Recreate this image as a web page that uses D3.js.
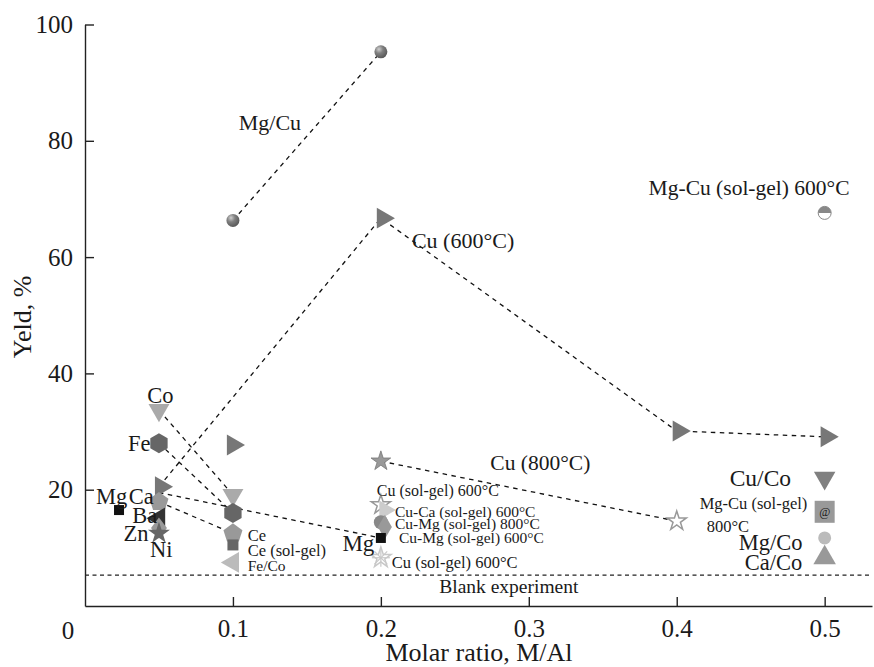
<!DOCTYPE html>
<html><head><meta charset="utf-8">
<script src="https://cdn.jsdelivr.net/npm/d3@7"></script>
<style>
body{margin:0;background:#fff;}
text{font-family:"Liberation Serif","Times New Roman",serif;fill:#1a1a1a;}
</style></head>
<body><svg id="c" width="874" height="667"></svg>
<script>
// ---- data ----
const xTicks = [0.1, 0.2, 0.3, 0.4, 0.5];
const yTicks = [20, 40, 60, 80, 100];
const blankValue = 5.3;
// connected series [x, y]
const mgCu   = [[0.1, 66.3], [0.2, 95.3]];
const cu600  = [[0.05, 20.5], [0.2, 66.7], [0.4, 30.1], [0.5, 29.1]];
const coLine = [[0.05, 33.7], [0.1, 19.1]];
const feLine = [[0.05, 28.0], [0.1, 16.0]];
const caCe   = [[0.05, 17.9], [0.1, 12.5]];
const mgLine = [[0.05, 19.5], [0.2, 11.7]];
const cu800  = [[0.2, 24.9], [0.4, 14.6]];
// single points: [x, y, marker]
const singles = [
  [0.1, 27.7, "triR"],
  [0.023, 16.5, "sqBlack"],
  [0.05, 15.1, "baTri"],
  [0.05, 13.4, "znDiam"],
  [0.05, 12.5, "niStar"],
  [0.1, 10.5, "ceSq"],
  [0.1, 7.5, "feCoTri"],
  [0.2, 17.4, "starOutline"],
  [0.2, 16.5, "cuCaTri"],
  [0.2, 14.4, "cuMgCircle"],
  [0.2, 13.6, "cuMgDiam"],
  [0.2, 11.7, "sqBlack"],
  [0.2, 8.3, "asterisk"],
  [0.5, 67.6, "halfCircle"],
  [0.5, 22.0, "cuCoTri"],
  [0.5, 16.2, "atSquare"],
  [0.5, 11.7, "mgCoCircle"],
  [0.5, 8.3, "caCoTri"]
];
// labels: [text, x, y, size, anchor]
const labels = [
  ["Mg/Cu", 0.125, 83.1, 22, "middle"],
  ["Cu (600°C)", 0.221, 62.9, 22, "start"],
  ["Mg-Cu (sol-gel) 600°C", 0.381, 71.9, 21.5, "start"],
  ["Co", 0.051, 36.3, 22.5, "middle"],
  ["Fe", 0.029, 28.0, 22.5, "start"],
  ["Mg", 0.0075, 18.9, 22.5, "start"],
  ["Ca", 0.0295, 18.9, 22.5, "start"],
  ["Ba", 0.032, 15.6, 22.5, "start"],
  ["Zn", 0.026, 12.5, 22.5, "start"],
  ["Ni", 0.044, 9.8, 22.5, "start"],
  ["Ce", 0.110, 12.2, 16.5, "start"],
  ["Ce (sol-gel)", 0.110, 9.6, 16.5, "start"],
  ["Fe/Co", 0.110, 7.0, 15.5, "start"],
  ["Mg", 0.174, 10.8, 23, "start"],
  ["Cu (sol-gel) 600°C", 0.1973, 19.9, 16, "start"],
  ["Cu-Ca (sol-gel) 600°C", 0.2095, 16.3, 15.5, "start"],
  ["Cu-Mg (sol-gel) 800°C", 0.2095, 14.1, 15.5, "start"],
  ["Cu-Mg (sol-gel) 600°C", 0.2122, 11.7, 15.5, "start"],
  ["Cu (sol-gel) 600°C", 0.2074, 7.6, 16.5, "start"],
  ["Cu (800°C)", 0.274, 24.6, 21.5, "start"],
  ["Cu/Co", 0.4358, 22.0, 23.5, "start"],
  ["Mg-Cu (sol-gel)", 0.4155, 17.7, 16.5, "start"],
  ["800°C", 0.4203, 13.8, 16.5, "start"],
  ["Mg/Co", 0.4419, 10.9, 22.5, "start"],
  ["Ca/Co", 0.446, 7.6, 22.5, "start"],
  ["Blank experiment", 0.2865, 3.4, 19.5, "middle"]
];

// ---- chart ----
const svg = d3.select("#c");
const x = d3.scaleLinear().domain([0, 0.532]).range([85, 872]);
const y = d3.scaleLinear().domain([0, 100]).range([606, 24.5]);

const defs = svg.append("defs");
const g1 = defs.append("radialGradient").attr("id","sph").attr("cx","35%").attr("cy","30%").attr("r","70%");
g1.append("stop").attr("offset","0%").attr("stop-color","#cfcfcf");
g1.append("stop").attr("offset","45%").attr("stop-color","#808080");
g1.append("stop").attr("offset","100%").attr("stop-color","#5a5a5a");

// axes
const xAxis = d3.axisBottom(x).tickValues(xTicks).tickFormat(d3.format(".1f"))
  .tickSizeInner(-9).tickSizeOuter(0).tickPadding(13);
const gx = svg.append("g").attr("transform","translate(0,606)").call(xAxis);
gx.selectAll("text").style("font-size","25px").style("font-family","Liberation Serif, serif").attr("fill","#1a1a1a");
const yAxis = d3.axisLeft(y).tickValues(yTicks).tickFormat(d3.format("d"))
  .tickSizeInner(-9).tickSizeOuter(0).tickPadding(12);
const gy = svg.append("g").attr("transform","translate(85,0)").call(yAxis);
gy.selectAll("text").style("font-size","25px").style("font-family","Liberation Serif, serif").attr("fill","#1a1a1a");
[gx, gy].forEach(g => { g.select(".domain").attr("stroke","#222").attr("stroke-width",1.4);
  g.selectAll(".tick line").attr("stroke","#222").attr("stroke-width",1.4); });

svg.append("text").attr("x", 68).attr("y", 639).attr("text-anchor","middle")
  .style("font-size","25px").text("0");
svg.append("text").attr("x", 479).attr("y", 661).attr("text-anchor","middle")
  .style("font-size","26px").text("Molar ratio, M/Al");
svg.append("text").attr("transform","translate(31,317) rotate(-90)").attr("text-anchor","middle")
  .style("font-size","26px").text("Yeld, %");

// blank line
svg.append("line").attr("x1", x(0)).attr("x2", x(0.532)).attr("y1", y(blankValue)).attr("y2", y(blankValue))
  .attr("stroke","#222").attr("stroke-width",1.2).attr("stroke-dasharray","4,3.5");

// dashed connecting lines
const line = d3.line().x(d => x(d[0])).y(d => y(d[1]));
[mgCu, cu600, coLine, feLine, caCe, mgLine, cu800].forEach(s => {
  svg.append("path").attr("d", line(s)).attr("fill","none").attr("stroke","#111")
    .attr("stroke-width",1.3).attr("stroke-dasharray","4.5,4.5");
});

// marker helpers
function poly(n, r, rot) {
  const p = [];
  for (let i = 0; i < n; i++) { const a = rot + i * 2 * Math.PI / n; p.push([r*Math.cos(a), r*Math.sin(a)]); }
  return "M" + p.map(q => q.join(",")).join("L") + "Z";
}
function tri(size) { return d3.symbol().type(d3.symbolTriangle).size(size)(); }
function drawMarker(type, px, py) {
  const g = svg.append("g").attr("transform", `translate(${px},${py})`);
  switch (type) {
    case "sphere": g.append("circle").attr("r",6.5).attr("fill","url(#sph)"); break;
    case "triR": g.append("path").attr("d", tri(190)).attr("transform","rotate(90)").attr("fill","#777"); break;
    case "triDownLight": g.append("path").attr("d", tri(190)).attr("transform","rotate(180)").attr("fill","#aaa"); break;
    case "hex": g.append("path").attr("d", poly(6, 10, Math.PI/6)).attr("fill","#666"); break;
    case "pent": g.append("path").attr("d", poly(5, 10, -Math.PI/2)).attr("fill","#999"); break;
    case "sqBlack":
      g.append("rect").attr("x",-5).attr("y",-5).attr("width",10).attr("height",10).attr("fill","#111");
      break;
    case "baTri": g.append("path").attr("d", tri(200)).attr("transform","rotate(-90)").attr("fill","#333"); break;
    case "znDiam": g.append("path").attr("d", d3.symbol().type(d3.symbolDiamond).size(130)()).attr("transform","scale(1.3,1)").attr("fill","#999"); break;
    case "niStar": g.append("path").attr("d", d3.symbol().type(d3.symbolStar).size(150)()).attr("fill","#666"); break;
    case "ceSq": g.append("rect").attr("x",-5.5).attr("y",-5.5).attr("width",11).attr("height",11).attr("fill","#666"); break;
    case "feCoTri": g.append("path").attr("d", tri(190)).attr("transform","rotate(-90)").attr("fill","#bbb"); break;
    case "star": g.append("path").attr("d", d3.symbol().type(d3.symbolStar).size(120)()).attr("fill","#999").attr("stroke","#777").attr("stroke-width",0.8); break;
    case "starOutline": g.append("path").attr("d", d3.symbol().type(d3.symbolStar).size(115)()).attr("fill","#fff").attr("stroke","#999").attr("stroke-width",1.5); break;
    case "cuCaTri": g.append("path").attr("d", tri(160)).attr("transform","translate(4,0) rotate(90)").attr("fill","#ccc"); break;
    case "cuMgCircle": g.append("circle").attr("r",7).attr("fill","#888"); break;
    case "cuMgDiam": g.append("path").attr("d", d3.symbol().type(d3.symbolDiamond).size(170)()).attr("transform","translate(4,0)").attr("fill","#999"); break;
    case "asterisk": {
      const s = d3.symbol().type(d3.symbolStar).size(130)();
      g.append("path").attr("d", s).attr("fill","none").attr("stroke","#c8c8c8").attr("stroke-width",1.5);
      for (let i = 0; i < 4; i++) g.append("line").attr("x1",0).attr("y1",-9).attr("x2",0).attr("y2",9)
        .attr("transform",`rotate(${i*45})`).attr("stroke","#c8c8c8").attr("stroke-width",1.2);
      break; }
    case "halfCircle":
      g.append("circle").attr("r",6.5).attr("fill","#fff").attr("stroke","#888").attr("stroke-width",1);
      g.append("path").attr("d", d3.arc()({innerRadius:0, outerRadius:6.5, startAngle:-Math.PI/2, endAngle:Math.PI/2})).attr("fill","#888");
      break;
    case "cuCoTri": g.append("path").attr("d", tri(200)).attr("transform","rotate(180)").attr("fill","#808080"); break;
    case "atSquare":
      g.append("rect").attr("x",-10).attr("y",-11).attr("width",20).attr("height",22).attr("fill","#999");
      g.append("text").attr("y",4).attr("text-anchor","middle").style("font-size","12px").text("@");
      break;
    case "mgCoCircle": g.append("circle").attr("r",6.5).attr("fill","#bbb"); break;
    case "caCoTri": g.append("path").attr("d", tri(220)).attr("fill","#999"); break;
  }
}

mgCu.forEach(d => drawMarker("sphere", x(d[0]), y(d[1])));
cu600.forEach(d => drawMarker("triR", x(d[0]) + 2, y(d[1])));
coLine.forEach(d => drawMarker("triDownLight", x(d[0]), y(d[1])));
feLine.forEach(d => drawMarker("hex", x(d[0]), y(d[1])));
caCe.forEach(d => drawMarker("pent", x(d[0]), y(d[1])));
cu800.forEach((d, i) => drawMarker(i === 0 ? "star" : "starOutline", x(d[0]), y(d[1])));
singles.forEach(d => drawMarker(d[2], x(d[0]), y(d[1])));

// labels
labels.forEach(l => {
  svg.append("text").attr("x", x(l[1])).attr("y", y(l[2])).attr("dy","0.35em")
    .attr("text-anchor", l[4]).style("font-size", l[3] + "px").text(l[0]);
});
</script></body></html>
